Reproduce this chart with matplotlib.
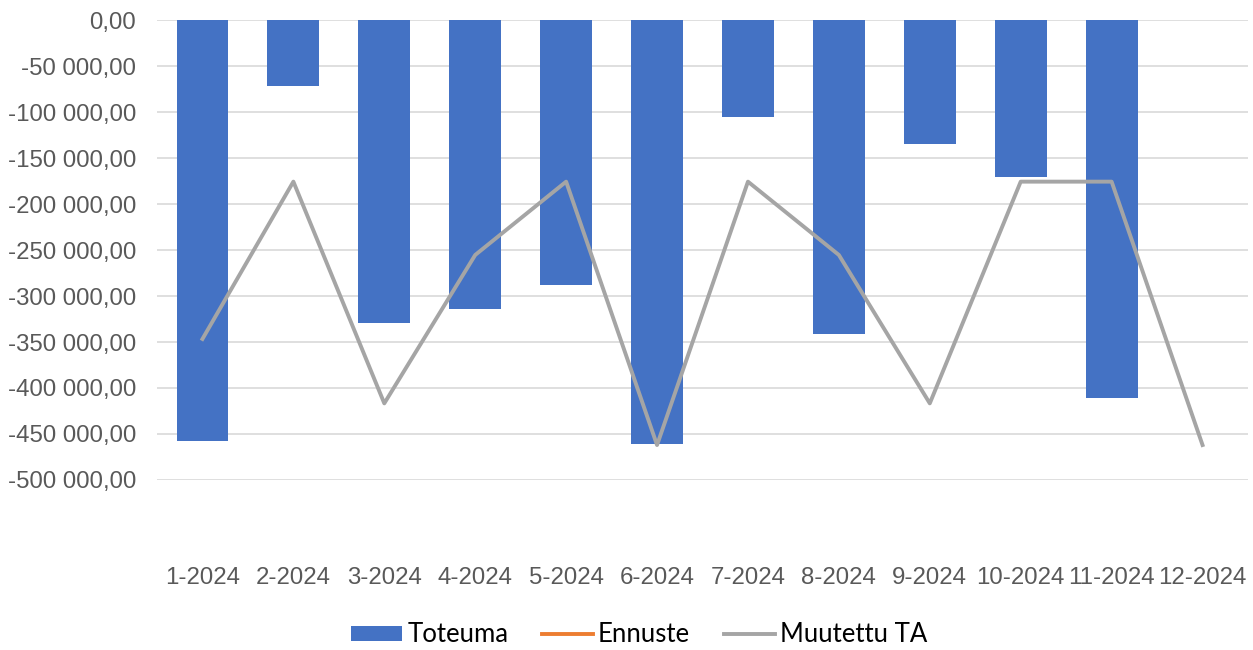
import matplotlib
matplotlib.use("Agg")
import matplotlib.pyplot as plt
import numpy as np
from matplotlib.patches import Patch
from matplotlib.lines import Line2D
from matplotlib.ticker import FuncFormatter, MultipleLocator

plt.rcParams["font.family"] = ["Liberation Sans", "DejaVu Sans"]

categories = ["1-2024", "2-2024", "3-2024", "4-2024", "5-2024", "6-2024",
              "7-2024", "8-2024", "9-2024", "10-2024", "11-2024", "12-2024"]
toteuma = [-457300, -71700, -329700, -314500, -288400, -460900,
           -105400, -341300, -134800, -171000, -411200, np.nan]
ennuste = [np.nan] * 12
muutettu_ta = [-346700, -175700, -416700, -255400, -175700, -462000,
               -175700, -255400, -416700, -175700, -175700, -462000]

W, H = 1253, 650
fig = plt.figure(figsize=(W / 100, H / 100), dpi=100)
ax = fig.add_axes([157 / W, 1 - 480 / H, (1248 - 157) / W, 460 / H])

x = np.arange(len(categories))
ax.bar(x, toteuma, width=0.57, color="#4472C4", zorder=2)
ax.plot(x, ennuste, color="#ED7D31", lw=2.8, zorder=3)
ax.plot(x, muutettu_ta, color="#A5A5A5", lw=2.8, zorder=3)

ax.set_xlim(-0.5, len(categories) - 0.5)
ax.set_ylim(-500000, 0)
ax.yaxis.set_major_locator(MultipleLocator(50000))

def fmt(v, pos):
    return f"{v:,.2f}".replace(",", " ").replace(".", ",")

ax.yaxis.set_major_formatter(FuncFormatter(fmt))
ax.grid(axis="y", color="#D9D9D9", lw=1.2, zorder=0)
ax.set_axisbelow(True)
for s in ax.spines.values():
    s.set_visible(False)

ax.set_xticks(x)
ax.set_xticklabels(categories)
ax.tick_params(axis="both", length=0, labelcolor="#595959", labelsize=17.3)
ax.tick_params(axis="x", pad=63)
ax.tick_params(axis="y", pad=15)

handles = [Patch(facecolor="#4472C4", edgecolor="none"),
           Line2D([], [], color="#ED7D31", lw=2.8),
           Line2D([], [], color="#A5A5A5", lw=2.8)]
labels = ["Toteuma", "Ennuste", "Muutettu TA"]
fig.legend(handles, labels, loc="center", bbox_to_anchor=(639 / W, 1 - 635 / H),
           ncol=3, frameon=False, prop={"family": ["Lato", "DejaVu Sans"], "size": 18.5},
           handlelength=2.0, handletextpad=0.2, columnspacing=1.3, handleheight=0.55)

fig.savefig("out.png", dpi=100, facecolor="white")
